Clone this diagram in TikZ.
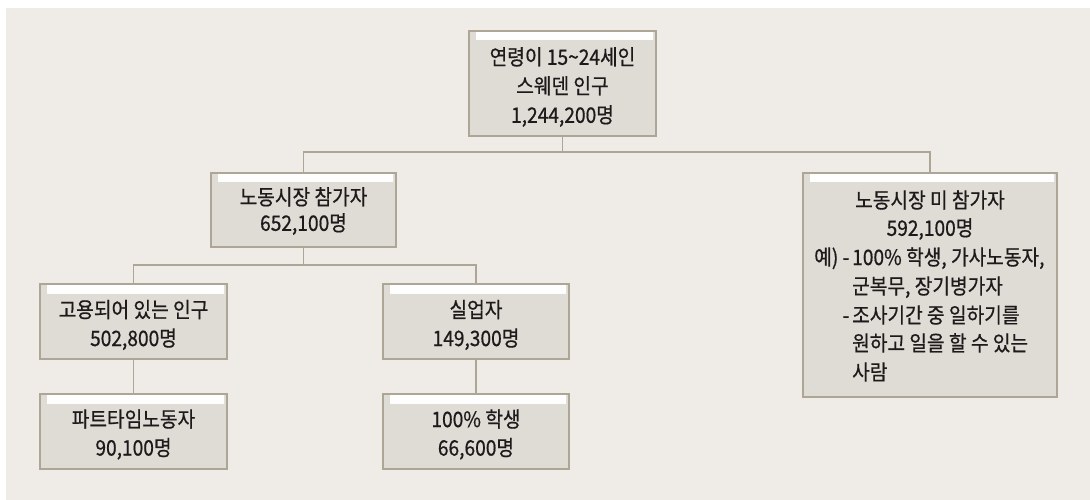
\documentclass[tikz,border=0pt]{standalone}
\usepackage{fontspec}
\setmainfont{Noto Sans CJK KR}[FakeStretch=0.9, FakeBold=0.6]
\definecolor{bg}{HTML}{EFECE7}
\definecolor{boxfill}{HTML}{DFDBD5}
\definecolor{edge}{HTML}{ADA697}
\definecolor{ink}{HTML}{1E1A1B}
\begin{document}
\begin{tikzpicture}[x=1pt,y=-1pt,
  box/.style={draw=edge, line width=2.2pt, fill=boxfill, inner sep=0pt,
    path picture={\shade[top color=white, bottom color=boxfill, middle color=white!70!boxfill]
      ([xshift=7pt,yshift=-1.2pt]path picture bounding box.north west) rectangle
      ([xshift=-3pt,yshift=-9pt]path picture bounding box.north east);}},
  txt/.style={text=ink, font=\fontsize{21.3}{28.5}\selectfont, align=center, inner sep=0pt},
  ltxt/.style={text=ink, font=\fontsize{21.3}{28.5}\selectfont, inner sep=0pt, anchor=base west},
  link/.style={draw=edge, line width=1.8pt}]
\useasboundingbox (0,0) rectangle (1090,500);
\fill[white] (0,0) rectangle (1090,500);
\fill[bg] (6,8) rectangle (1090,500);

% boxes
\node[box, minimum width=187pt, minimum height=105pt] (top) at (562.5,83.5) {};
\node[box, minimum width=185pt, minimum height=74pt] (labor) at (303.5,210) {};
\node[box, minimum width=254pt, minimum height=224pt] (nonlabor) at (930,285) {};
\node[box, minimum width=187pt, minimum height=75pt] (employed) at (133.5,321.5) {};
\node[box, minimum width=187pt, minimum height=75pt] (parttime) at (133.5,431.5) {};
\node[box, minimum width=186pt, minimum height=75pt] (unemp) at (476,321.5) {};
\node[box, minimum width=186pt, minimum height=75pt] (students) at (476,431.5) {};

% connectors
\draw[link] (top.south) -- ++(0,15) -| (labor.north);
\draw[link] (top.south) -- ++(0,15) -| (nonlabor.north);
\draw[link] (labor.south) -- ++(0,17) -| (employed.north);
\draw[link] (labor.south) -- ++(0,17) -| (unemp.north);
\draw[link] (employed) -- (parttime);
\draw[link] (unemp) -- (students);
\node[box, minimum width=187pt, minimum height=75pt] at (employed) {};
\node[box, minimum width=187pt, minimum height=75pt] at (parttime) {};
\node[box, minimum width=186pt, minimum height=75pt] at (unemp) {};
\node[box, minimum width=186pt, minimum height=75pt] at (students) {};

% texts
\node[txt, font=\fontsize{21.3}{29}\selectfont] (ttop) at (562.5,87) {연령이 15\textasciitilde24세인\\스웨덴 인구\\1,244,200명};
\node[txt, font=\fontsize{21.3}{26}\selectfont] (tlabor) at (303.5,211) {노동시장 참가자\\652,100명};
\node[txt] (temployed) at (133.5,325) {고용되어 있는 인구\\502,800명};
\node[txt] (tparttime) at (133.5,434.5) {파트타임노동자\\90,100명};
\node[txt] (tunemp) at (476,325) {실업자\\149,300명};
\node[txt] (tstudents) at (476,434.5) {100\% 학생\\66,600명};

\node[txt] (n1) at (930,200) {노동시장 미 참가자};
\node[txt] (n2) at (930,229) {592,100명};
\node[ltxt, anchor=base east] (n3a) at (849.5,265) {예) -};
\node[ltxt] (n3) at (852,265) {100\% 학생, 가사노동자,};
\node[ltxt] (n4) at (852,294) {군복무, 장기병가자};
\node[ltxt, anchor=base east] (n5a) at (849.5,323) {-};
\node[ltxt] (n5) at (852,323) {조사기간 중 일하기를};
\node[ltxt] (n6) at (852,351) {원하고 일을 할 수 있는};
\node[ltxt] (n7) at (852,380) {사람};
\end{tikzpicture}
\end{document}
